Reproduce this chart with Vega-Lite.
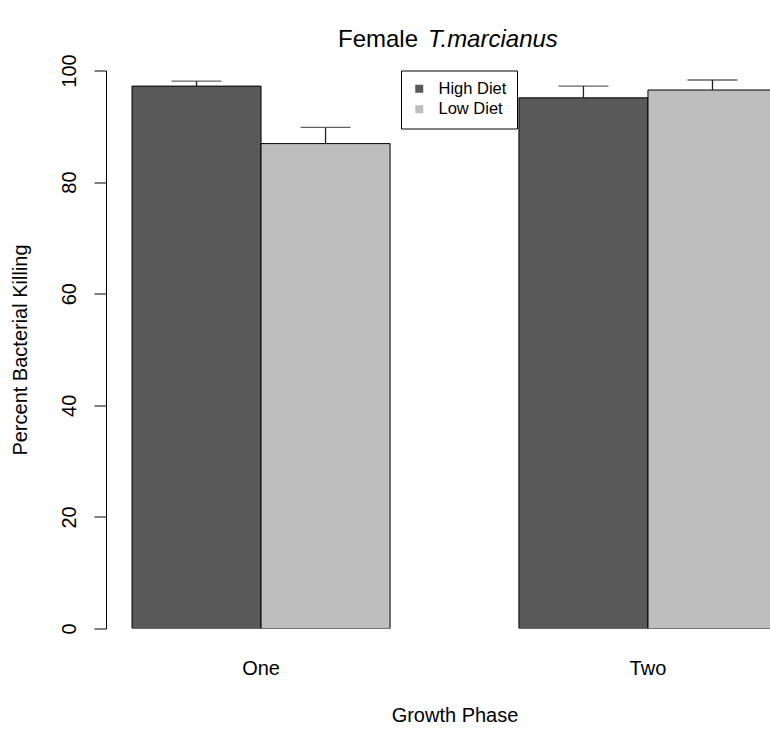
{
  "$schema": "https://vega.github.io/schema/vega-lite/v6.json",
  "autosize": {"type": "none"},
  "padding": {"left": 106, "top": 70.5, "right": 0, "bottom": 103.5},
  "width": 664,
  "height": 558,
  "background": "white",
  "title": {
    "text": "Female",
    "subtitle": "T.marcianus",
    "anchor": "middle",
    "align": "left",
    "dx": -10,
    "offset": 2,
    "font": "Liberation Sans",
    "fontSize": 24,
    "fontWeight": "normal",
    "color": "black",
    "subtitleFont": "Liberation Sans",
    "subtitleFontSize": 24,
    "subtitleFontStyle": "italic",
    "subtitleColor": "black",
    "subtitlePadding": -24,
    "encoding": {"align": {"value": "right"}, "dx": {"value": -20}}
  },
  "data": {
    "values": [
      {"phase": "One", "diet": "High Diet", "killing": 97.2, "upper": 98.1},
      {"phase": "One", "diet": "Low Diet", "killing": 86.9, "upper": 89.8},
      {"phase": "Two", "diet": "High Diet", "killing": 95.1, "upper": 97.2},
      {"phase": "Two", "diet": "Low Diet", "killing": 96.5, "upper": 98.3}
    ]
  },
  "encoding": {
    "x": {
      "field": "phase",
      "type": "nominal",
      "sort": ["One", "Two"],
      "scale": {"range": [0, 697], "paddingInner": 0.333, "paddingOuter": 0.0672},
      "axis": {
        "title": "Growth Phase",
        "domain": false,
        "ticks": false,
        "tickSize": 0,
        "labelAngle": 0,
        "labelFontSize": 20,
        "labelBaseline": "alphabetic",
        "labelPadding": 46,
        "titleFontSize": 20,
        "titleFontWeight": "normal",
        "titleX": 348.5,
        "titleY": 93,
        "titleBaseline": "alphabetic",
        "titleAlign": "center"
      }
    },
    "xOffset": {"field": "diet", "type": "nominal", "sort": ["High Diet", "Low Diet"]}
  },
  "layer": [
    {
      "mark": {"type": "bar", "stroke": "black", "strokeWidth": 1, "clip": true},
      "encoding": {
        "y": {
          "field": "killing",
          "type": "quantitative",
          "scale": {"domain": [0, 100], "nice": false},
          "axis": {
            "title": "Percent Bacterial Killing",
            "values": [0, 20, 40, 60, 80, 100],
            "grid": false,
            "domainColor": "black",
            "tickColor": "black",
            "tickSize": 12,
            "labelFontSize": 20,
            "labelAngle": 270,
            "labelAlign": "center",
            "labelBaseline": "alphabetic",
            "labelPadding": 18.5,
            "labelFlush": false,
            "labelOverlap": false,
            "titleFontSize": 20,
            "titleFontWeight": "normal",
            "titleAngle": 270,
            "titleX": -80,
            "titleY": 279,
            "titleAlign": "center",
            "titleBaseline": "alphabetic"
          }
        },
        "color": {
          "field": "diet",
          "type": "nominal",
          "sort": ["High Diet", "Low Diet"],
          "scale": {"range": ["#595959", "#BEBEBE"]},
          "legend": {
            "title": null,
            "orient": "none",
            "legendX": 295,
            "legendY": 0,
            "direction": "vertical",
            "strokeColor": "black",
            "fillColor": "white",
            "padding": 10,
            "symbolType": "square",
            "symbolSize": 64,
            "symbolStrokeWidth": 0,
            "labelFontSize": 16.5,
            "labelOffset": 11,
            "rowPadding": 3.5
          }
        }
      }
    },
    {
      "mark": {"type": "rule", "color": "#222222", "strokeWidth": 1.3, "clip": true},
      "encoding": {
        "y": {"field": "killing", "type": "quantitative"},
        "y2": {"field": "upper"}
      }
    },
    {
      "mark": {"type": "tick", "color": "#222222", "size": 50, "thickness": 1.3, "clip": true},
      "encoding": {
        "y": {"field": "upper", "type": "quantitative"}
      }
    }
  ],
  "config": {
    "font": "Liberation Sans",
    "view": {"stroke": null},
    "axis": {"labelColor": "black", "titleColor": "black"},
    "legend": {"labelColor": "black", "labelFont": "Liberation Sans"}
  }
}
